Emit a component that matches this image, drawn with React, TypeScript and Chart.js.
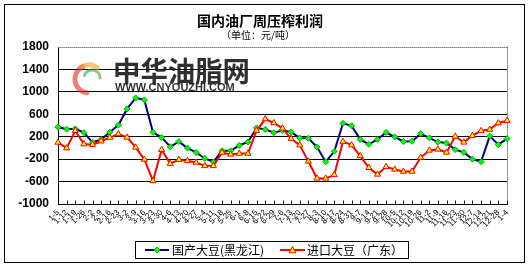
import React, { useEffect, useRef } from "react";
import { Chart, registerables } from "chart.js";

Chart.register(...registerables);

const categories = [
  "1-5", "1-12", "1-19", "1-26", "2-2", "2-9", "2-16", "2-23", "3-2", "3-9",
  "3-16", "3-23", "3-30", "4-6", "4-13", "4-20", "4-27", "5-4", "5-11", "5-18",
  "5-25", "6-1", "6-8", "6-15", "6-22", "6-29", "7-6", "7-13", "7-20", "7-27",
  "8-3", "8-10", "8-17", "8-24", "8-31", "9-7", "9-14", "9-21", "9-28", "10-5",
  "10-12", "10-19", "10-26", "11-2", "11-9", "11-16", "11-23", "11-30", "12-7", "12-14",
  "12-21", "12-28", "1-4",
];

const domesticSoy = [
  372, 335, 340, 272, 100, 150, 280, 409, 696, 892,
  857, 278, 188, 21, 113, -3, -81, -188, -250, -51,
  -51, 45, 105, 358, 330, 272, 312, 283, 178, 172,
  15, -248, -60, 438, 395, 152, 65, 152, 276, 195,
  115, 120, 255, 180, 105, 87, -30, -80, -200, -245,
  210, 58, 165,
];

const importedSoy = [
  98, -3, 307, 69, 57, 120, 185, 248, 188, 10,
  -205, -588, -33, -280, -210, -230, -260, -320, -320, -83,
  -115, -100, -100, 310, 515, 445, 350, 165, 50, -240,
  -543, -543, -480, 112, 50, -142, -353, -472, -337, -383,
  -420, -420, -172, -44, -26, -80, 206, 100, 218, 305,
  328, 444, 485,
];

const yMin = -1000;
const yMax = 1800;
const yStep = 400;

const titleText = "国内油厂周压榨利润";
const subtitleText = "（单位：元/吨）";
const seriesNames = ["国产大豆(黑龙江)", "进口大豆（广东）"];
const watermarkText = "中华油脂网";
const watermarkUrl = "WWW.CNYOUZHI.COM";

const CJK = "'Noto Sans CJK SC', 'Noto Sans', sans-serif";
const LAT = "'Liberation Sans', Arial, sans-serif";

function drawDiamond(ctx: CanvasRenderingContext2D, x: number, y: number, r: number) {
  ctx.beginPath();
  ctx.moveTo(x, y - r);
  ctx.lineTo(x + r, y);
  ctx.lineTo(x, y + r);
  ctx.lineTo(x - r, y);
  ctx.closePath();
  ctx.fillStyle = "#00ff00";
  ctx.fill();
  ctx.strokeStyle = "#00b000";
  ctx.lineWidth = 1;
  ctx.stroke();
}

function drawTriangle(ctx: CanvasRenderingContext2D, x: number, y: number, r: number) {
  ctx.beginPath();
  ctx.moveTo(x, y - r);
  ctx.lineTo(x + r, y + r * 0.8);
  ctx.lineTo(x - r, y + r * 0.8);
  ctx.closePath();
  ctx.fillStyle = "#ffff00";
  ctx.fill();
  ctx.strokeStyle = "#ff0000";
  ctx.lineWidth = 1;
  ctx.stroke();
}

const decorPlugin = {
  id: "decor",
  beforeDraw(chart: any) {
    const ctx: CanvasRenderingContext2D = chart.ctx;
    ctx.save();
    ctx.fillStyle = "#ffffff";
    ctx.fillRect(0, 0, chart.width, chart.height);
    ctx.strokeStyle = "#000";
    ctx.lineWidth = 1;
    ctx.strokeRect(4.5, 4.5, 520, 258);
    ctx.fillStyle = "#000";
    ctx.textAlign = "center";
    ctx.textBaseline = "middle";
    ctx.font = `bold 14px ${CJK}`;
    ctx.fillText(titleText, 260, 21);
    ctx.font = `10px ${CJK}`;
    ctx.fillText(subtitleText, 258, 35);
    ctx.restore();
  },
  beforeDatasetsDraw(chart: any) {
    const ctx: CanvasRenderingContext2D = chart.ctx;
    const a = chart.chartArea;
    ctx.save();
    // watermark logo
    ctx.globalAlpha = 0.6;
    ctx.lineCap = "round";
    ctx.lineWidth = 5;
    ctx.strokeStyle = "#e03020";
    ctx.beginPath();
    ctx.arc(89, 79, 14, Math.PI * 0.55, Math.PI * 1.35);
    ctx.stroke();
    ctx.strokeStyle = "#f0a020";
    ctx.beginPath();
    ctx.arc(89, 79, 14, Math.PI * 1.35, Math.PI * 1.7);
    ctx.stroke();
    ctx.strokeStyle = "#40a040";
    ctx.lineWidth = 3;
    ctx.beginPath();
    ctx.arc(92, 78, 8, Math.PI * 1.1, Math.PI * 2.0);
    ctx.stroke();
    ctx.globalAlpha = 0.9;
    ctx.fillStyle = "#1a1a1a";
    ctx.textAlign = "left";
    ctx.textBaseline = "alphabetic";
    ctx.font = `bold 28px ${CJK}`;
    ctx.fillText(watermarkText, 113, 82, 137);
    ctx.font = `bold 11px ${LAT}`;
    ctx.textBaseline = "middle";
    ctx.fillText(watermarkUrl, 115, 88, 133);
    ctx.globalAlpha = 1;
    // dotted top and right plot border
    ctx.strokeStyle = "#808080";
    ctx.lineWidth = 1;
    ctx.setLineDash([1, 1]);
    ctx.beginPath();
    ctx.moveTo(a.left, Math.round(a.top) + 0.5);
    ctx.lineTo(a.right, Math.round(a.top) + 0.5);
    ctx.moveTo(Math.round(a.right) + 0.5, a.top);
    ctx.lineTo(Math.round(a.right) + 0.5, a.bottom);
    ctx.stroke();
    ctx.setLineDash([]);
    // inward tick marks on x axis
    const xs = chart.scales.x;
    ctx.strokeStyle = "#000";
    ctx.beginPath();
    for (let i = 0; i < categories.length; i++) {
      const px = Math.round(xs.getPixelForValue(i)) + 0.5;
      ctx.moveTo(px, a.bottom);
      ctx.lineTo(px, a.bottom - 3);
    }
    ctx.stroke();
    ctx.restore();
  },
  afterDraw(chart: any) {
    const ctx: CanvasRenderingContext2D = chart.ctx;
    ctx.save();
    ctx.strokeStyle = "#000";
    ctx.lineWidth = 1;
    ctx.strokeRect(135.5, 241.5, 273, 17);
    const cy = 250;
    ctx.lineWidth = 2;
    ctx.strokeStyle = "#000080";
    ctx.beginPath();
    ctx.moveTo(145, cy);
    ctx.lineTo(169, cy);
    ctx.stroke();
    drawDiamond(ctx, 157, cy, 3);
    ctx.lineWidth = 2;
    ctx.strokeStyle = "#ff0000";
    ctx.beginPath();
    ctx.moveTo(280, cy);
    ctx.lineTo(305, cy);
    ctx.stroke();
    drawTriangle(ctx, 292.5, cy, 3.5);
    ctx.fillStyle = "#000";
    ctx.textAlign = "left";
    ctx.textBaseline = "middle";
    ctx.font = `12px ${CJK}`;
    ctx.fillText(seriesNames[0], 172, cy);
    ctx.fillText(seriesNames[1], 307, cy);
    ctx.restore();
  },
};

export default function App() {
  const ref = useRef<HTMLCanvasElement | null>(null);

  useEffect(() => {
    document.body.style.margin = "0";
    const canvas = ref.current;
    if (!canvas) return;
    const chart = new Chart(canvas, {
      type: "line",
      data: {
        labels: categories,
        datasets: [
          {
            label: seriesNames[0],
            data: domesticSoy,
            borderColor: "#000080",
            borderWidth: 2,
            pointStyle: "rectRot",
            pointRadius: 3,
            pointBackgroundColor: "#00ff00",
            pointBorderColor: "#00b000",
            pointBorderWidth: 1,
            tension: 0,
            order: 2,
          },
          {
            label: seriesNames[1],
            data: importedSoy,
            borderColor: "#ff0000",
            borderWidth: 2,
            pointStyle: "triangle",
            pointRadius: 3.5,
            pointBackgroundColor: "#ffff00",
            pointBorderColor: "#ff0000",
            pointBorderWidth: 1,
            tension: 0,
            order: 1,
          },
        ],
      },
      options: {
        responsive: false,
        animation: false,
        devicePixelRatio: 1,
        layout: { padding: { left: 4, right: 22, top: 47, bottom: 0 } },
        plugins: {
          legend: { display: false },
          title: { display: false },
          tooltip: { enabled: false },
        },
        scales: {
          x: {
            type: "category",
            offset: false,
            grid: { display: true, drawOnChartArea: false, drawTicks: false },
            border: { display: true, color: "#000", width: 1 },
            ticks: {
              autoSkip: false,
              maxRotation: 45,
              minRotation: 45,
              padding: 4,
              color: "#000",
              font: { size: 8, family: LAT },
            },
            afterFit(s: any) {
              s.height = 63;
            },
          },
          y: {
            min: yMin,
            max: yMax,
            ticks: {
              stepSize: yStep,
              padding: 9,
              color: "#000",
              font: { size: 12, weight: "bold", family: LAT },
              callback: (v: any) => String(v),
            },
            grid: {
              color: (c: any) => (c.tick && c.tick.value === yMax ? "rgba(0,0,0,0)" : "#000"),
              lineWidth: 1,
              drawTicks: false,
            },
            border: { display: true, color: "#000", width: 1 },
            afterFit(s: any) {
              s.width = 54;
            },
          },
        },
      } as any,
      plugins: [decorPlugin],
    });
    return () => chart.destroy();
  }, []);

  return (
    <canvas
      ref={ref}
      width={529}
      height={267}
      style={{ display: "block", width: 529, height: 267 }}
    />
  );
}
